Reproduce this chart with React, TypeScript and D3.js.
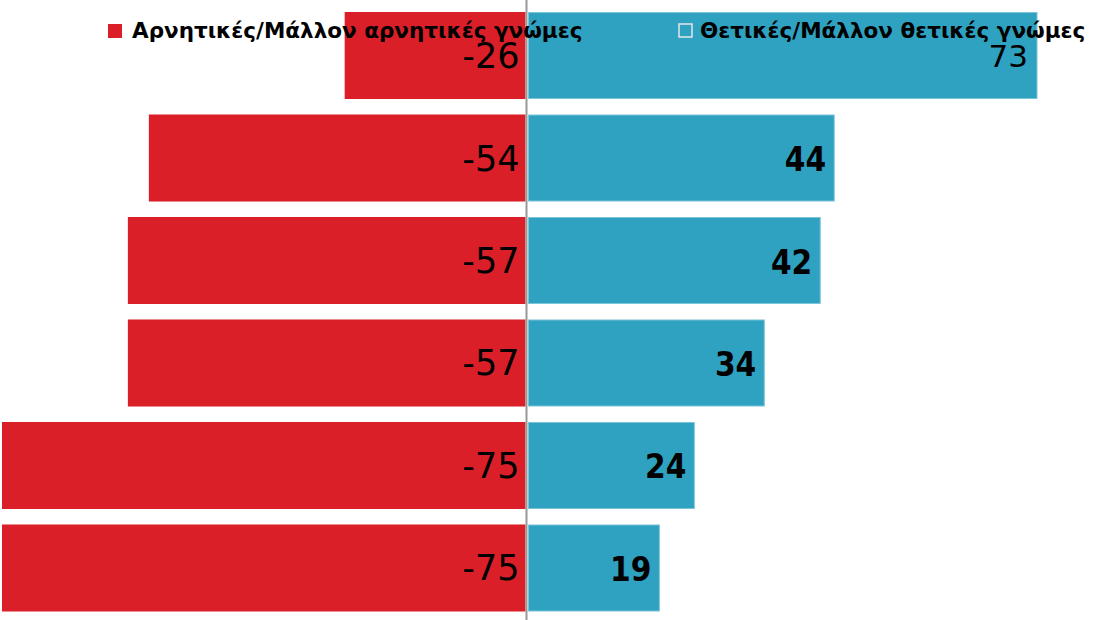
import React from "react";
import * as d3 from "d3";

const rows = ["r1", "r2", "r3", "r4", "r5", "r6"];
const negativeValues = [-26, -54, -57, -57, -75, -75];
const positiveValues = [73, 44, 42, 34, 24, 19];
const negativeLabel = "Αρνητικές/Μάλλον αρνητικές γνώμες";
const positiveLabel = "Θετικές/Μάλλον θετικές γνώμες";

const W = 1096;
const H = 620;
const RED = "#DA1F28";
const BLUE = "#2EA2C0";

export default function App() {
  const x = d3.scaleLinear().domain([-75, 73]).range([2, 1037]);
  const y = d3.scaleBand<string>().domain(rows).range([12, 611.5]).paddingInner(0.151).paddingOuter(0);
  const x0 = x(0);
  const font = "'DejaVu Sans', 'Noto Sans', sans-serif";
  const condFont = "'DejaVu Sans Condensed', 'DejaVu Sans', sans-serif";

  return (
    <svg width={W} height={H} style={{ position: "absolute", left: 0, top: 0, background: "#fff" }}>
      {rows.map((r, i) => (
        <g key={r}>
          <rect x={x(negativeValues[i])} y={y(r)} width={x0 - 1 - x(negativeValues[i])} height={y.bandwidth()} fill={RED} />
          <rect x={x0 + 2} y={y(r)! + 0.5} width={x(positiveValues[i]) - x0 - 2} height={y.bandwidth() - 1} fill={BLUE} stroke="#7cc4d8" strokeWidth={1} />
        </g>
      ))}
      <line x1={x0} x2={x0} y1={0} y2={H} stroke="#999" strokeWidth={2} />
      {rows.map((r, i) => (
        <g key={r + "l"}>
          <text x={x0 - 7} y={y(r)! + y.bandwidth() / 2 + 12.5} textAnchor="end" fontFamily={font} fontSize={35} fill="#000">
            {negativeValues[i]}
          </text>
          {i === 0 ? (
            <text x={x(positiveValues[i]) - 9} y={y(r)! + y.bandwidth() / 2 + 11.5} textAnchor="end" fontFamily={font} fontSize={31} fill="#000">
              {positiveValues[i]}
            </text>
          ) : (
            <text x={x(positiveValues[i]) - 8} y={y(r)! + y.bandwidth() / 2 + 13} textAnchor="end" fontFamily={condFont} fontWeight="bold" fontSize={33} fill="#000">
              {positiveValues[i]}
            </text>
          )}
        </g>
      ))}
      <g>
        <rect x={108} y={24} width={14} height={14} fill={RED} />
        <text x={132} y={38} fontFamily={font} fontWeight="bold" fontSize={21.5} fill="#000">{negativeLabel}</text>
        <rect x={679} y={24} width={13} height={13} fill="none" stroke="#e6e6e6" strokeWidth={1.5} />
        <text x={700} y={38} fontFamily={font} fontWeight="bold" fontSize={21.5} fill="#000">{positiveLabel}</text>
      </g>
    </svg>
  );
}
